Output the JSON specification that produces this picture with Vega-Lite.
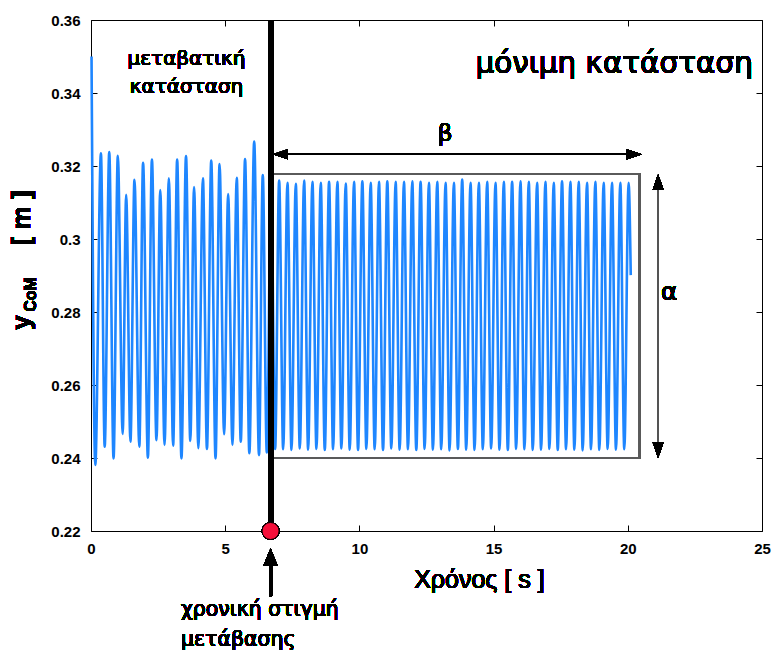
{
  "$schema": "https://vega.github.io/schema/vega-lite/v6.json",
  "width": 671,
  "height": 511,
  "autosize": "none",
  "padding": {"left": 91, "top": 20, "right": 10, "bottom": 120},
  "background": "white",
  "config": {
    "view": {"stroke": "black", "strokeWidth": 1},
    "axis": {
      "labelFont": "Liberation Sans",
      "labelFontSize": 15,
      "labelFontWeight": "bold",
      "labelColor": "black",
      "tickColor": "black",
      "tickSize": 6,
      "tickWidth": 1,
      "offset": -6,
      "domain": false,
      "grid": false,
      "labelFlush": false,
      "labelOverlap": false
    }
  },
  "data": {"values": [
    {"t": 0.02, "y": 0.350}, {"t": 0.16, "y": 0.2381}, {"t": 0.37, "y": 0.3235}, {"t": 0.51, "y": 0.2431},
    {"t": 0.68, "y": 0.3238}, {"t": 0.84, "y": 0.2399}, {"t": 1.00, "y": 0.3228}, {"t": 1.18, "y": 0.2466},
    {"t": 1.31, "y": 0.3121}, {"t": 1.47, "y": 0.2445}, {"t": 1.62, "y": 0.3162}, {"t": 1.80, "y": 0.2431},
    {"t": 1.94, "y": 0.3209}, {"t": 2.12, "y": 0.2401}, {"t": 2.27, "y": 0.3218}, {"t": 2.44, "y": 0.2449},
    {"t": 2.58, "y": 0.3134}, {"t": 2.74, "y": 0.2436}, {"t": 2.90, "y": 0.3166}, {"t": 3.06, "y": 0.2434},
    {"t": 3.21, "y": 0.3218}, {"t": 3.37, "y": 0.2399}, {"t": 3.54, "y": 0.3227}, {"t": 3.70, "y": 0.2447},
    {"t": 3.84, "y": 0.3142}, {"t": 4.00, "y": 0.2427}, {"t": 4.17, "y": 0.3166}, {"t": 4.32, "y": 0.2425},
    {"t": 4.48, "y": 0.3215}, {"t": 4.64, "y": 0.2399}, {"t": 4.79, "y": 0.3205}, {"t": 4.96, "y": 0.2465},
    {"t": 5.11, "y": 0.3123}, {"t": 5.27, "y": 0.2436}, {"t": 5.43, "y": 0.3168}, {"t": 5.58, "y": 0.2445},
    {"t": 5.74, "y": 0.3219}, {"t": 5.90, "y": 0.2413}, {"t": 6.08, "y": 0.3267}, {"t": 6.26, "y": 0.2408},
    {"t": 6.40, "y": 0.3175}, {"t": 6.55, "y": 0.2415}, {"t": 6.71, "y": 0.3160}, {"t": 6.86, "y": 0.2425},
    {"t": 7.01, "y": 0.3160}, {"t": 7.16, "y": 0.2424}, {"t": 7.32, "y": 0.3154}, {"t": 7.47, "y": 0.2422},
    {"t": 7.63, "y": 0.3151}, {"t": 7.78, "y": 0.2426}, {"t": 7.94, "y": 0.3160}, {"t": 8.09, "y": 0.2423},
    {"t": 8.25, "y": 0.3157}, {"t": 8.40, "y": 0.2425}, {"t": 8.56, "y": 0.3154}, {"t": 8.71, "y": 0.2422},
    {"t": 8.87, "y": 0.3157}, {"t": 9.02, "y": 0.2424}, {"t": 9.18, "y": 0.3157}, {"t": 9.33, "y": 0.2426},
    {"t": 9.49, "y": 0.3152}, {"t": 9.64, "y": 0.2423}, {"t": 9.80, "y": 0.3157}, {"t": 9.95, "y": 0.2422},
    {"t": 10.11, "y": 0.3158}, {"t": 10.26, "y": 0.2425}, {"t": 10.42, "y": 0.3154}, {"t": 10.57, "y": 0.2424},
    {"t": 10.73, "y": 0.3157}, {"t": 10.88, "y": 0.2422}, {"t": 11.04, "y": 0.3158}, {"t": 11.19, "y": 0.2426},
    {"t": 11.35, "y": 0.3157}, {"t": 11.50, "y": 0.2423}, {"t": 11.66, "y": 0.3157}, {"t": 11.81, "y": 0.2424},
    {"t": 11.97, "y": 0.3158}, {"t": 12.12, "y": 0.2422}, {"t": 12.28, "y": 0.3157}, {"t": 12.43, "y": 0.2425},
    {"t": 12.59, "y": 0.3154}, {"t": 12.74, "y": 0.2423}, {"t": 12.90, "y": 0.3157}, {"t": 13.05, "y": 0.2424},
    {"t": 13.21, "y": 0.3154}, {"t": 13.36, "y": 0.2421}, {"t": 13.52, "y": 0.3154}, {"t": 13.67, "y": 0.2425},
    {"t": 13.83, "y": 0.3163}, {"t": 13.98, "y": 0.2423}, {"t": 14.14, "y": 0.3154}, {"t": 14.29, "y": 0.2422},
    {"t": 14.45, "y": 0.3154}, {"t": 14.60, "y": 0.2424}, {"t": 14.76, "y": 0.3157}, {"t": 14.91, "y": 0.2426},
    {"t": 15.07, "y": 0.3154}, {"t": 15.22, "y": 0.2423}, {"t": 15.38, "y": 0.3157}, {"t": 15.53, "y": 0.2422},
    {"t": 15.69, "y": 0.3157}, {"t": 15.84, "y": 0.2425}, {"t": 16.00, "y": 0.3158}, {"t": 16.15, "y": 0.2424},
    {"t": 16.31, "y": 0.3157}, {"t": 16.46, "y": 0.2422}, {"t": 16.62, "y": 0.3154}, {"t": 16.77, "y": 0.2423},
    {"t": 16.93, "y": 0.3157}, {"t": 17.08, "y": 0.2425}, {"t": 17.24, "y": 0.3154}, {"t": 17.39, "y": 0.2422},
    {"t": 17.55, "y": 0.3158}, {"t": 17.70, "y": 0.2424}, {"t": 17.86, "y": 0.3157}, {"t": 18.01, "y": 0.2423},
    {"t": 18.17, "y": 0.3157}, {"t": 18.32, "y": 0.2421}, {"t": 18.48, "y": 0.3154}, {"t": 18.63, "y": 0.2424},
    {"t": 18.79, "y": 0.3157}, {"t": 18.94, "y": 0.2422}, {"t": 19.10, "y": 0.3154}, {"t": 19.25, "y": 0.2425},
    {"t": 19.41, "y": 0.3154}, {"t": 19.56, "y": 0.2423}, {"t": 19.72, "y": 0.3154}, {"t": 19.87, "y": 0.2424},
    {"t": 20.03, "y": 0.3154}, {"t": 20.11, "y": 0.2901}
  ]},
  "layer": [
    {
      "mark": {"type": "rect", "fillOpacity": 0, "stroke": "#5a5a5a", "strokeWidth": 1.5},
      "encoding": {
        "x": {"datum": 6.69, "type": "quantitative", "axis": {"orient": "top", "title": null, "labels": false, "values": [0, 5, 10, 15, 20, 25]}},
        "x2": {"datum": 20.44},
        "y": {"datum": 0.3179, "type": "quantitative", "axis": {"orient": "right", "title": null, "labels": false, "values": [0.22, 0.24, 0.26, 0.28, 0.3, 0.32, 0.34, 0.36]}},
        "y2": {"datum": 0.2401}
      }
    },
    {
      "mark": {"type": "line", "color": "#1e86ff", "strokeWidth": 2.6, "interpolate": "monotone"},
      "encoding": {
        "x": {
          "field": "t", "type": "quantitative",
          "scale": {"domain": [0, 25], "nice": false, "zero": false},
          "axis": {"orient": "bottom", "title": null, "values": [0, 5, 10, 15, 20, 25], "format": "d", "labelPadding": 10}
        },
        "y": {
          "field": "y", "type": "quantitative",
          "scale": {"domain": [0.22, 0.36], "nice": false, "zero": false},
          "axis": {"orient": "left", "title": null, "values": [0.22, 0.24, 0.26, 0.28, 0.3, 0.32, 0.34, 0.36], "format": ".2~f", "labelPadding": 11}
        }
      }
    },
    {
      "mark": {"type": "rule", "color": "black", "strokeWidth": 5},
      "encoding": {
        "x": {"datum": 6.69, "type": "quantitative", "axis": null},
        "y": {"datum": 0.36, "type": "quantitative", "axis": null},
        "y2": {"datum": 0.22}
      }
    },
    {
      "mark": {"type": "rule", "color": "black", "strokeWidth": 1.5},
      "encoding": {
        "x": {"datum": 6.9, "type": "quantitative", "axis": null},
        "x2": {"datum": 20.4},
        "y": {"datum": 0.3232, "type": "quantitative", "axis": null}
      }
    },
    {
      "mark": {"type": "point", "shape": "M0,0L2,-0.67L2,0.67Z", "size": 225, "filled": true, "color": "black", "opacity": 1, "strokeWidth": 0},
      "encoding": {
        "x": {"datum": 6.78, "type": "quantitative", "axis": null},
        "y": {"datum": 0.3232, "type": "quantitative", "axis": null}
      }
    },
    {
      "mark": {"type": "point", "shape": "M0,0L-2,-0.67L-2,0.67Z", "size": 225, "filled": true, "color": "black", "opacity": 1, "strokeWidth": 0},
      "encoding": {
        "x": {"datum": 20.52, "type": "quantitative", "axis": null},
        "y": {"datum": 0.3232, "type": "quantitative", "axis": null}
      }
    },
    {
      "mark": {"type": "rule", "color": "#555555", "strokeWidth": 1.5},
      "encoding": {
        "x": {"datum": 21.13, "type": "quantitative", "axis": null},
        "y": {"datum": 0.3165, "type": "quantitative", "axis": null},
        "y2": {"datum": 0.2413}
      }
    },
    {
      "mark": {"type": "point", "shape": "M0,0L-0.7,2L0.7,2Z", "size": 225, "filled": true, "color": "black", "opacity": 1, "strokeWidth": 0},
      "encoding": {
        "x": {"datum": 21.13, "type": "quantitative", "axis": null},
        "y": {"datum": 0.3177, "type": "quantitative", "axis": null}
      }
    },
    {
      "mark": {"type": "point", "shape": "M0,0L-0.7,-2L0.7,-2Z", "size": 225, "filled": true, "color": "black", "opacity": 1, "strokeWidth": 0},
      "encoding": {
        "x": {"datum": 21.13, "type": "quantitative", "axis": null},
        "y": {"datum": 0.2401, "type": "quantitative", "axis": null}
      }
    },
    {
      "mark": {"type": "rule", "color": "black", "strokeWidth": 3},
      "encoding": {
        "x": {"datum": 6.69, "type": "quantitative", "axis": null},
        "y": {"datum": 0.2135, "type": "quantitative", "axis": null},
        "y2": {"datum": 0.2021}
      }
    },
    {
      "mark": {"type": "point", "shape": "M0,0L-0.82,2L0.82,2Z", "size": 289, "filled": true, "color": "black", "opacity": 1, "strokeWidth": 0},
      "encoding": {
        "x": {"datum": 6.69, "type": "quantitative", "axis": null},
        "y": {"datum": 0.2152, "type": "quantitative", "axis": null}
      }
    },
    {
      "mark": {"type": "point", "shape": "circle", "size": 290, "filled": true, "fill": "#f5103a", "stroke": "black", "strokeWidth": 1, "opacity": 1},
      "encoding": {
        "x": {"datum": 6.69, "type": "quantitative", "axis": null},
        "y": {"datum": 0.22, "type": "quantitative", "axis": null}
      }
    },
    {
      "mark": {"type": "text", "text": ["μεταβατική", "κατάσταση"], "font": "DejaVu Sans", "fontSize": 20, "lineHeight": 28, "align": "center", "baseline": "alphabetic", "color": "black"},
      "encoding": {
        "x": {"datum": 3.56, "type": "quantitative", "axis": null},
        "y": {"datum": 0.3478, "type": "quantitative", "axis": null}
      }
    },
    {
      "mark": {"type": "text", "text": "μόνιμη κατάσταση", "font": "DejaVu Sans", "fontSize": 29.5, "align": "right", "baseline": "alphabetic", "color": "black"},
      "encoding": {
        "x": {"datum": 24.66, "type": "quantitative", "axis": null},
        "y": {"datum": 0.3456, "type": "quantitative", "axis": null}
      }
    },
    {
      "mark": {"type": "text", "text": "β", "font": "DejaVu Sans", "fontSize": 23, "align": "center", "baseline": "alphabetic", "color": "black"},
      "encoding": {
        "x": {"datum": 13.19, "type": "quantitative", "axis": null},
        "y": {"datum": 0.3268, "type": "quantitative", "axis": null}
      }
    },
    {
      "mark": {"type": "text", "text": "α", "font": "DejaVu Sans", "fontSize": 25, "align": "center", "baseline": "alphabetic", "color": "black"},
      "encoding": {
        "x": {"datum": 21.54, "type": "quantitative", "axis": null},
        "y": {"datum": 0.2834, "type": "quantitative", "axis": null}
      }
    },
    {
      "mark": {"type": "text", "text": ["χρονική στιγμή", "μετάβασης"], "font": "DejaVu Sans", "fontSize": 20.5, "lineHeight": 30, "align": "left", "baseline": "alphabetic", "color": "black"},
      "encoding": {
        "x": {"datum": 3.35, "type": "quantitative", "axis": null},
        "y": {"datum": 0.1966, "type": "quantitative", "axis": null}
      }
    },
    {
      "mark": {"type": "text", "text": "Χρόνος [ s ]", "font": "Liberation Sans", "fontSize": 25, "align": "center", "baseline": "alphabetic", "color": "black"},
      "encoding": {
        "x": {"datum": 14.47, "type": "quantitative", "axis": null},
        "y": {"datum": 0.2045, "type": "quantitative", "axis": null}
      }
    },
    {
      "mark": {"type": "text", "text": "y", "font": "Liberation Sans", "fontWeight": "bold", "fontSize": 26, "angle": 270, "align": "center", "baseline": "alphabetic", "color": "black"},
      "encoding": {
        "x": {"datum": -2.27, "type": "quantitative", "axis": null},
        "y": {"datum": 0.2771, "type": "quantitative", "axis": null}
      }
    },
    {
      "mark": {"type": "text", "text": "CoM", "font": "Liberation Sans", "fontWeight": "bold", "fontSize": 16, "angle": 270, "align": "center", "baseline": "alphabetic", "color": "black"},
      "encoding": {
        "x": {"datum": -2.05, "type": "quantitative", "axis": null},
        "y": {"datum": 0.2848, "type": "quantitative", "axis": null}
      }
    },
    {
      "mark": {"type": "text", "text": "[ m ]", "font": "Liberation Sans", "fontWeight": "bold", "fontSize": 26, "angle": 270, "align": "center", "baseline": "alphabetic", "color": "black"},
      "encoding": {
        "x": {"datum": -2.27, "type": "quantitative", "axis": null},
        "y": {"datum": 0.3058, "type": "quantitative", "axis": null}
      }
    }
  ],
  "resolve": {"axis": {"x": "independent", "y": "independent"}}
}
